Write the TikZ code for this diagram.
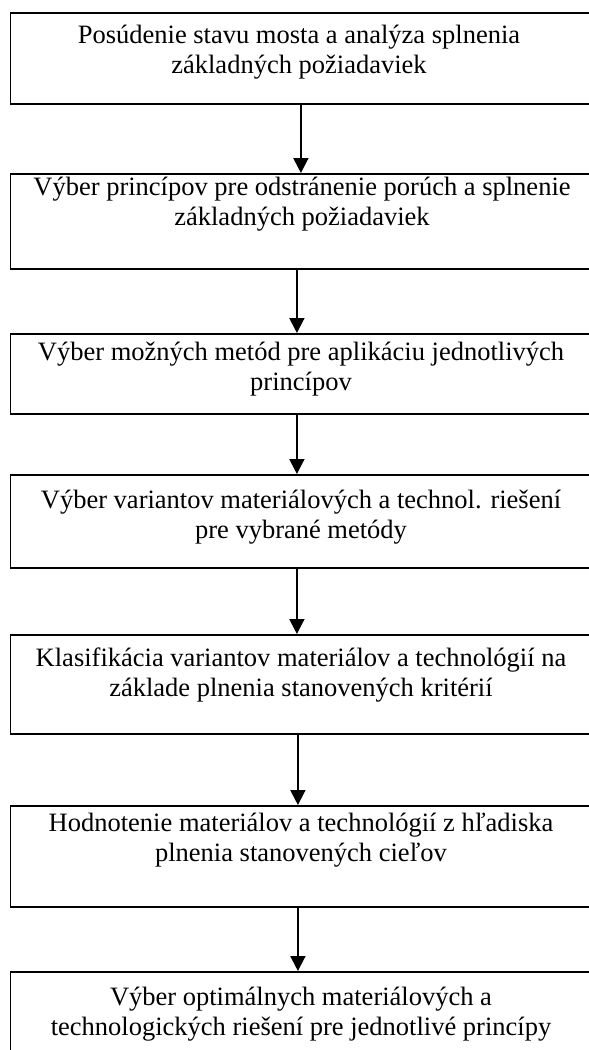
\documentclass[tikz,border=0pt]{standalone}
\usepackage{fontspec}
\setmainfont{Liberation Serif}
\usetikzlibrary{arrows.meta}
\begin{document}
\begin{tikzpicture}[x=1pt,y=1pt,
  boxnode/.style={draw, line width=1.8pt, minimum width=581pt, inner sep=0pt, anchor=north west},
  txt/.style={font=\fontsize{26.5}{30}\selectfont, align=center, inner sep=0pt, anchor=north},
  arr/.style={line width=1.9pt, -{Triangle[length=15pt,width=15pt]}}]
\useasboundingbox (0,0) rectangle (589,-1050);
\fill[white] (0,0) rectangle (589,-1050);
% boxes
\node[boxnode, minimum height=91pt]  (b1) at (9.5,-12)  {};
\node[boxnode, minimum height=95pt]  (b2) at (9.5,-173) {};
\node[boxnode, minimum height=80pt]  (b3) at (9.5,-333) {};
\node[boxnode, minimum height=93pt]  (b4) at (9.5,-474) {};
\node[boxnode, minimum height=99pt]  (b5) at (9.5,-634) {};
\node[boxnode, minimum height=101pt] (b6) at (9.5,-805) {};
\node[boxnode, minimum height=100pt] (b7) at (9.5,-971) {};
% texts
\node[txt] (t1) at (299,-25)  {Posúdenie stavu mosta a analýza splnenia\\základných požiadaviek};
\node[txt] (t2) at (302,-177) {Výber princípov pre odstránenie porúch a splnenie\\základných požiadaviek};
\node[txt] (t3) at (301,-342) {Výber možných metód pre aplikáciu jednotlivých\\princípov};
\node[txt] (t4) at (301,-490) {Výber variantov materiálových a technol. riešení\\pre vybrané metódy};
\node[txt] (t5) at (301,-648) {Klasifikácia variantov materiálov a technológií na\\základe plnenia stanovených kritérií};
\node[txt] (t6) at (301,-813) {Hodnotenie materiálov a technológií z hľadiska\\plnenia stanovených cieľov};
\node[txt] (t7) at (301,-987) {Výber optimálnych materiálových a\\technologických riešení pre jednotlivé princípy};
% arrows
\draw[arr] (b1.south) -- (b2.north);
\draw[arr] ([xshift=-4pt]b2.south) -- ([xshift=-4pt]b3.north);
\draw[arr] ([xshift=-4pt]b3.south) -- ([xshift=-4pt]b4.north);
\draw[arr] ([xshift=-4pt]b4.south) -- ([xshift=-4pt]b5.north);
\draw[arr] ([xshift=-3pt]b5.south) -- ([xshift=-3pt]b6.north);
\draw[arr] ([xshift=-3pt]b6.south) -- ([xshift=-3pt]b7.north);
\end{tikzpicture}
\end{document}
